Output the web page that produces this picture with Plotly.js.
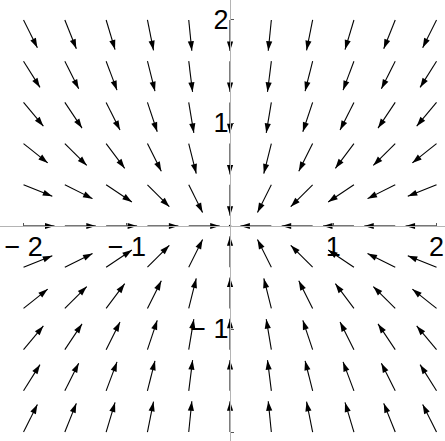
<!DOCTYPE html>
<html>
<head>
<meta charset="utf-8">
<script src="https://cdn.plot.ly/plotly-3.0.1.min.js"></script>
<style>
  html, body { margin: 0; padding: 0; background: #ffffff; }
  #chart { width: 445px; height: 441px; }
</style>
</head>
<body>
<div id="chart"></div>
<script>
// Grid of sample points (tails of the arrows)
const gridX = [-2, -1.6, -1.2, -0.8, -0.4, 0, 0.4, 0.8, 1.2, 1.6, 2];
const gridY = [-2, -1.6, -1.2, -0.8, -0.4, 0, 0.4, 0.8, 1.2, 1.6, 2];
// Horizontal component of the field, one value per column (read from arrow directions)
const uByColumn = [2, 1.6, 1.2, 0.8, 0.4, 0, -0.4, -0.8, -1.2, -1.6, -2];
// Vertical component of the field, one value per row (read from arrow directions)
const vByRow = [4, 3.2, 2.4, 1.6, 0.8, 0, -0.8, -1.6, -2.4, -3.2, -4];
// Tick values and labels
const tickValues = [-2, -1, 1, 2];
const tickLabels = ['\u2212 2', '\u2212 1', '1', '2'];

const W = 445, H = 441;
const xRange = [-2.228, 2.082];
const yRange = [-2.087, 2.194];
const arrowLen = 0.3; // drawn length of every arrow, in axis units
const sx = W / (xRange[1] - xRange[0]);
const sy = H / (yRange[1] - yRange[0]);

const lx = [], ly = [], hx = [], hy = [], ha = [], dotX = [], dotY = [];
for (let i = 0; i < gridY.length; i++) {
  for (let j = 0; j < gridX.length; j++) {
    const u = uByColumn[j], v = vByRow[i];
    const n = Math.hypot(u, v);
    const x0 = gridX[j], y0 = gridY[i];
    if (n === 0) { dotX.push(x0); dotY.push(y0); continue; }
    const x1 = x0 + arrowLen * u / n, y1 = y0 + arrowLen * v / n;
    lx.push(x0, x1, null); ly.push(y0, y1, null);
    hx.push(x1); hy.push(y1);
    ha.push(Math.atan2(u * sx, v * sy) * 180 / Math.PI);
  }
}

const traces = [
  { type: 'scatter', mode: 'lines', x: lx, y: ly, connectgaps: false,
    line: { color: '#000000', width: 1.1 }, hoverinfo: 'skip', showlegend: false },
  { type: 'scatter', mode: 'markers', x: hx, y: hy,
    marker: { symbol: 'arrow', size: 10, angle: ha, color: '#000000', line: { width: 0 } },
    hoverinfo: 'skip', showlegend: false },
  { type: 'scatter', mode: 'markers', x: dotX, y: dotY,
    marker: { symbol: 'circle', size: 2.5, color: '#000000', line: { width: 0 } },
    hoverinfo: 'skip', showlegend: false }
];

const axisFont = { family: '"Liberation Sans", Arial, sans-serif', size: 27, color: '#000000' };
const layout = {
  width: W, height: H,
  margin: { l: 0, r: 0, t: 0, b: 0, pad: 0 },
  paper_bgcolor: '#ffffff', plot_bgcolor: '#ffffff',
  showlegend: false,
  xaxis: {
    range: xRange, anchor: 'free',
    position: (0 - yRange[0]) / (yRange[1] - yRange[0]),
    showgrid: false, zeroline: false,
    showline: true, linecolor: '#b4b4b4', linewidth: 1,
    tickmode: 'array', tickvals: tickValues, ticktext: tickLabels,
    ticks: 'inside', ticklen: 3, tickwidth: 1, tickcolor: '#555555',
    ticklabelstandoff: -3,
    tickfont: axisFont, fixedrange: true
  },
  yaxis: {
    range: yRange, anchor: 'free',
    position: (0 - xRange[0]) / (xRange[1] - xRange[0]),
    showgrid: false, zeroline: false,
    showline: true, linecolor: '#b4b4b4', linewidth: 1,
    tickmode: 'array', tickvals: tickValues, ticktext: tickLabels,
    ticks: 'inside', ticklen: 3, tickwidth: 1, tickcolor: '#555555',
    ticklabelstandoff: -4,
    tickfont: axisFont, fixedrange: true
  }
};

Plotly.newPlot('chart', traces, layout, { staticPlot: true, displayModeBar: false });
</script>
</body>
</html>
